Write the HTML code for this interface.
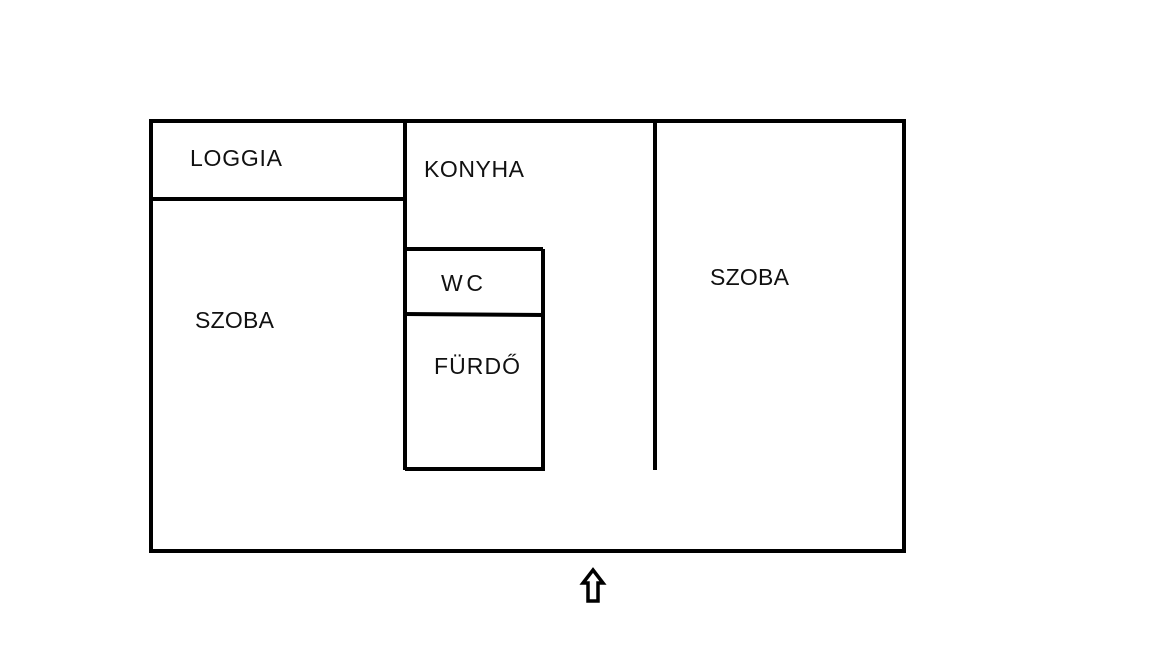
<!DOCTYPE html>
<html><head><meta charset="utf-8"><style>
html,body{margin:0;padding:0;background:#fff;}
svg{display:block;}
text{font-family:"Liberation Sans",sans-serif;font-size:23px;fill:#111;}
</style></head><body>
<svg width="1152" height="648" viewBox="0 0 1152 648">
<g stroke="#000" stroke-width="4" fill="none">
<rect x="151" y="121" width="753" height="430"/>
<line x1="151" y1="199" x2="405" y2="199"/>
<line x1="405" y1="121" x2="405" y2="470"/>
<line x1="405" y1="249" x2="543" y2="249"/>
<line x1="543" y1="249" x2="543" y2="470"/>
<line x1="403" y1="314" x2="545" y2="315"/>
<line x1="405" y1="469" x2="545" y2="469"/>
<line x1="655" y1="119" x2="655" y2="470"/>
<path d="M593,570 L603,583 L598,583 L598,601 L588,601 L588,583 L583,583 Z" stroke-width="3.5" stroke-linejoin="miter"/>
</g>
<text x="190" y="166" textLength="92">LOGGIA</text>
<text x="424" y="177" textLength="100">KONYHA</text>
<text x="441" y="291" textLength="42">WC</text>
<text x="195" y="328" textLength="79">SZOBA</text>
<text x="434" y="374" textLength="86">FÜRDŐ</text>
<text x="710" y="285" textLength="79">SZOBA</text>
</svg>
</body></html>
